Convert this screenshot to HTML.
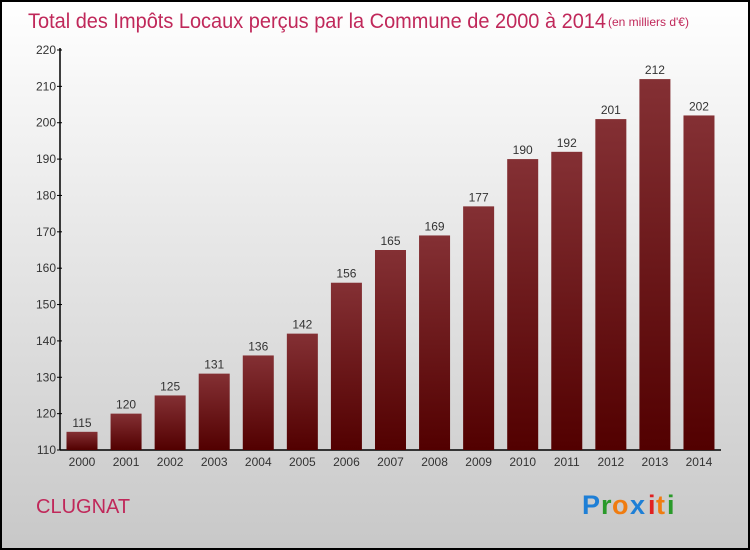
<!DOCTYPE html>
<html><head><meta charset="utf-8"><style>
body{margin:0;width:750px;height:550px;overflow:hidden}
svg{display:block}
text{font-family:"Liberation Sans",sans-serif}
</style></head><body>
<svg id="chart" width="750" height="550" viewBox="0 0 750 550">
<defs>
<linearGradient id="bg" x1="0" y1="0" x2="0" y2="1"><stop offset="0" stop-color="#ffffff"/><stop offset="1" stop-color="#c8c8c8"/></linearGradient>
<linearGradient id="bar" x1="0" y1="0" x2="0" y2="1"><stop offset="0" stop-color="#843034"/><stop offset="1" stop-color="#520000"/></linearGradient>
</defs>
<rect x="1" y="1" width="748" height="548" fill="url(#bg)" stroke="#000" stroke-width="2"/>
<text x="28" y="28" font-size="21" fill="#c0285a" textLength="578" lengthAdjust="spacingAndGlyphs">Total des Impôts Locaux perçus par la Commune de 2000 à 2014</text>
<text x="608" y="26" font-size="12" fill="#c0285a">(en milliers d'€)</text>
<text x="36" y="513" font-size="20" fill="#c0285a">CLUGNAT</text>
<g font-size="27" font-weight="bold" font-family="Liberation Sans">
<text x="582" y="514" fill="#1e7fd6">P</text><text x="601" y="514" fill="#2a9a2a">r</text><text x="612" y="514" fill="#f07c10">o</text><text x="630" y="514" fill="#1e7fd6">x</text><text x="648" y="514" fill="#e02020">i</text><text x="656" y="514" fill="#f07c10">t</text><text x="667" y="514" fill="#2a9a2a">i</text>
</g>
<g id="axes"></g>
<g id="bars"></g>
</svg>
<script>
const years=["2000","2001","2002","2003","2004","2005","2006","2007","2008","2009","2010","2011","2012","2013","2014"];
const values=[115,120,125,131,136,142,156,165,169,177,190,192,201,212,202];
const yTicks=[110,120,130,140,150,160,170,180,190,200,210,220];
const NS="http://www.w3.org/2000/svg";
const y0=110,y1=220,py0=450,py1=50,x0=60,step=44.07,bw=31;
const yS=v=>py0-(v-y0)/(y1-y0)*(py0-py1);
const xS=i=>82+i*step;
function mk(t,a,p){const e=document.createElementNS(NS,t);for(const k in a)e.setAttribute(k,a[k]);p.appendChild(e);return e;}
const ax=document.getElementById('axes'),bg=document.getElementById('bars');
let l=mk('line',{x1:x0,y1:48,x2:x0,y2:py0,stroke:'#000','stroke-width':1.5},ax);


l=mk('line',{x1:x0,y1:py0,x2:721,y2:py0,stroke:'#000','stroke-width':1.5},ax);


yTicks.forEach(v=>{
 const y=yS(v);
 const t=mk('line',{x1:x0-3,y1:y,x2:x0+2,y2:y,stroke:'#000'},ax);
 
 
 const tx=mk('text',{x:x0-4,y:y+4,'font-size':12,fill:'#333','text-anchor':'end'},ax);
 tx.textContent=v;
 
 
});
values.forEach((v,i)=>{
 const cx=xS(i),top=yS(v);
 const r=mk('rect',{x:cx-bw/2,y:top,width:bw,height:py0-top,fill:'url(#bar)'},bg);
 
 
 const vt=mk('text',{x:cx,y:top-5,'font-size':12,fill:'#333','text-anchor':'middle'},bg);
 vt.textContent=v;
 
 
 const xt=mk('text',{x:cx,y:466,'font-size':12,fill:'#333','text-anchor':'middle'},bg);
 xt.textContent=years[i];
 
 
});
</script>
</body></html>
